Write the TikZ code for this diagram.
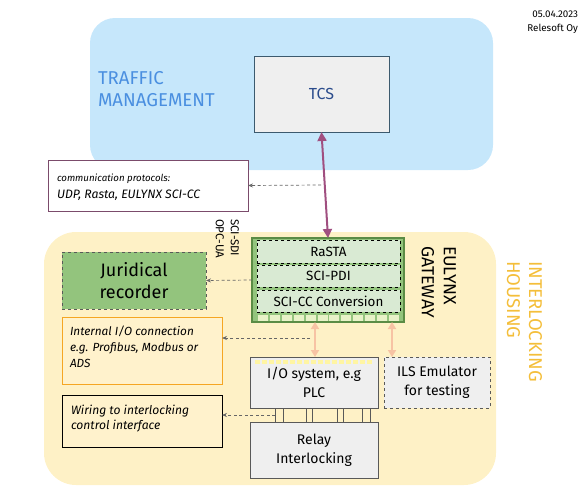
\documentclass[tikz,border=0pt]{standalone}
\usepackage{fontspec}
\setmainfont{Fira Sans}
\usetikzlibrary{arrows.meta,calc}
\definecolor{tmblue}{HTML}{C6E7FB}
\definecolor{housing}{HTML}{FEF1C6}
\definecolor{tmtext}{HTML}{4A8FE0}
\definecolor{hstext}{HTML}{F4BE3A}
\definecolor{purp}{HTML}{A04F80}
\definecolor{commb}{HTML}{7B4B6B}
\definecolor{orarrow}{HTML}{F7C3A4}
\definecolor{gwgreen}{HTML}{93C47D}
\definecolor{gwdark}{HTML}{5B8C45}
\definecolor{lightgreen}{HTML}{D9EAD3}
\definecolor{boxgray}{HTML}{EFEFEF}
\definecolor{notefill}{HTML}{FFF2CC}
\definecolor{orangeb}{HTML}{F5A623}
\definecolor{tcsborder}{HTML}{3C5A6E}
\definecolor{tcstext}{HTML}{2B4C8C}
\definecolor{squarefill}{HTML}{E8F2C8}
\begin{document}
\begin{tikzpicture}[x=1pt,y=-1pt,
  every node/.style={inner sep=0pt, outer sep=0pt},
  graybox/.style={draw=black!65, fill=boxgray, line width=0.8pt, align=center, font=\fontsize{14}{19}\selectfont},
  layer/.style={draw=black, dashed, fill=lightgreen, minimum width=143pt, minimum height=22pt, font=\fontsize{13.4}{15}\selectfont},
  note/.style={fill=notefill, line width=0.9pt, minimum width=160pt},
  notetext/.style={anchor=north west, align=left, font=\fontsize{11.8}{16}\selectfont\itshape},
  darr/.style={draw=black!60, dash pattern=on 3pt off 2.5pt, line width=0.7pt, -{Stealth[length=5pt,width=4pt]}},
  orarr/.style={draw=orarrow, line width=2.5pt, {Triangle[length=7pt,width=8pt]}-{Triangle[length=7pt,width=8pt]}},
  wirepair/.style={draw=black!65, line width=0.7pt}
]
\useasboundingbox (0,0) rectangle (588,490);
% areas
\node[fill=tmblue, rounded corners=25pt, minimum width=403pt, minimum height=152pt] (tm) at (291.5,94) {};
\node[fill=housing, rounded corners=32pt, minimum width=452pt, minimum height=253pt] (ih) at (270,358.5) {};
% date
\node[anchor=north east, align=right, font=\fontsize{9.8}{14}\selectfont] (date) at (578,11) {05.04.2023\\Relesoft Oy};
% traffic management
\node[anchor=north west, align=left, text=tmtext, font=\fontsize{18.6}{22}\selectfont] (tmlabel) at (98,71) {TRAFFIC\\MANAGEMENT};
\node[draw=tcsborder, fill=boxgray, line width=0.8pt, minimum width=135pt, minimum height=76pt, text=tcstext, font=\fontsize{16}{18}\selectfont] (tcs) at (321.5,94) {TCS};
% communication protocols
\node[draw=commb, fill=white, line width=0.9pt, minimum width=200pt, minimum height=51pt] (comm) at (148,185.5) {};
\node[anchor=west, font=\fontsize{9.7}{11}\selectfont\itshape] (commt1) at (57,179) {communication protocols:};
\node[anchor=west, font=\fontsize{12.2}{14}\selectfont\itshape] (commt2) at (57,195) {UDP, Rasta, EULYNX SCI-CC};
% labels
\node[anchor=north west, rotate=-90, align=left, font=\fontsize{11.5}{15}\selectfont] (sdi) at (239,219) {SCI-SDI\\OPC-UA};
\node[anchor=north west, rotate=-90, align=left, font=\fontsize{17.5}{22}\selectfont] (gwlabel) at (456,246) {EULYNX\\GATEWAY};
\node[anchor=north west, rotate=-90, align=left, text=hstext, font=\fontsize{18.5}{22}\selectfont] (ihlabel) at (542,261) {INTERLOCKING\\HOUSING};
% gateway
\node[draw=gwdark, fill=gwgreen, line width=1.2pt, minimum width=152pt, minimum height=84pt] (gw) at (328,280) {};
\node[layer, minimum height=23pt] (rasta) at (328.5,251.5) {RaSTA};
\node[layer] (pdi) at (328.5,276) {SCI-PDI};
\node[layer] (scicc) at (328.5,301) {SCI-CC Conversion\hspace{10pt}};
\foreach \i in {0,...,11} {
  \fill[squarefill] (258+\i*11.9,314.5) rectangle ++(10,6);
}
% TCS <-> gateway
\draw[draw=purp, line width=2pt, {Triangle[length=9pt,width=9pt]}-{Triangle[length=9pt,width=9pt]}] (tcs.south) -- (gw.north);
\coordinate (c1) at (321,185);
\draw[darr] (c1) -- (comm.east);
% juridical recorder
\node[draw=black!65, dashed, fill=gwgreen, line width=0.8pt, minimum width=144pt, minimum height=57pt, align=center, font=\fontsize{18}{22}\selectfont] (jur) at (134,280.5) {Juridical\\recorder};
\draw[darr] (gw.west) -- (jur.east);
% notes
\node[note, draw=orangeb, minimum height=67pt] (io) at (142,350.5) {};
\node[notetext] (iot) at (70,326) {Internal I/O connection\\e.g. Profibus, Modbus or\\ADS};
\node[note, draw=black, minimum height=52pt] (wire) at (142,421) {};
\node[notetext, font=\fontsize{12.1}{15.5}\selectfont\itshape] (wiret) at (71,405) {Wiring to interlocking\\control interface};
% lower boxes
\node[graybox, minimum width=128pt, minimum height=51pt] (plc) at (314,382.5) {I/O system, e.g\\PLC};
\draw[draw=notefill!80!yellow, line width=4pt, dash pattern=on 5pt off 2pt] ([xshift=5pt,yshift=-5pt]plc.north west) -- ([xshift=-5pt,yshift=-5pt]plc.north east);
\node[graybox, dashed, minimum width=106pt, minimum height=51pt] (ils) at (437,382.5) {ILS Emulator\\for testing};
\node[graybox, minimum width=128pt, minimum height=56pt] (relay) at (314,450) {Relay\\Interlocking};
% wires
\foreach \x in {275,283,306,312,337,343,362,370} {
  \draw[wirepair] (\x,408) -- (\x,422);
}
% orange arrows
\draw[orarr] (315,322) -- (315,357);
\draw[orarr] (392,322) -- (392,357);
% dashed arrows
\coordinate (c2) at (310,338);
\draw[darr] (c2) -- (c2 -| io.east);
\coordinate (c3) at (275,415);
\draw[darr] (c3) -- (c3 -| wire.east);
\end{tikzpicture}
\end{document}
